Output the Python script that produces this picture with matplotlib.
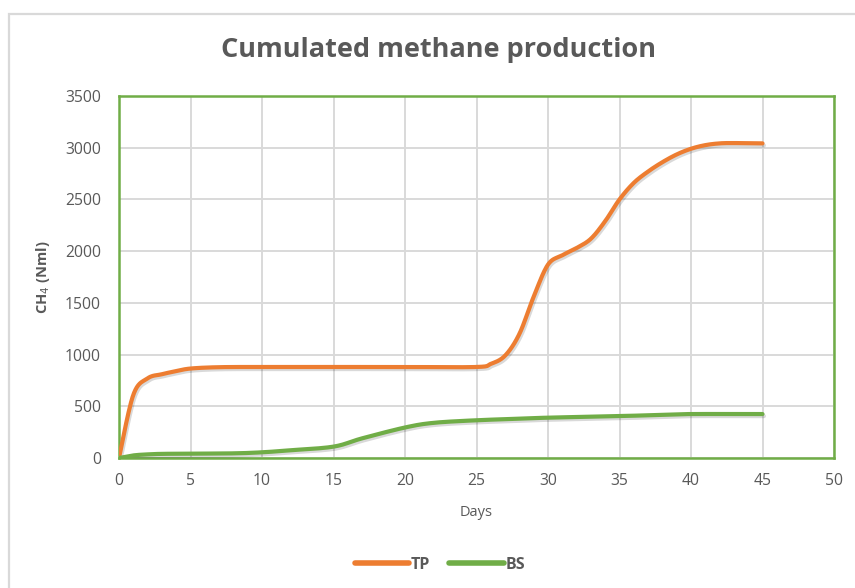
import matplotlib
matplotlib.use("Agg")
import matplotlib.pyplot as plt
import matplotlib.patheffects as pe
from matplotlib.patches import Rectangle
import numpy as np

plt.rcParams["font.family"] = ["Open Sans", "DejaVu Sans"]

# data
tp_days = [0, 1, 2, 3, 4, 5, 7, 10, 15, 20, 25, 26, 27, 28, 29, 30, 31, 32, 33, 34,
           35, 36, 37, 38, 39, 40, 41, 42, 43, 45]
tp_ch4 = [0, 610, 770, 810, 840, 865, 878, 880, 880, 880, 880, 910, 990, 1200, 1560,
          1870, 1960, 2030, 2120, 2290, 2500, 2660, 2770, 2860, 2935, 2990, 3025,
          3042, 3045, 3042]

bs_days = [0, 1, 2, 3, 5, 8, 10, 12, 15, 17, 20, 22, 25, 27, 30, 35, 38, 40, 45]
bs_ch4 = [0, 25, 35, 40, 42, 45, 55, 75, 110, 190, 295, 340, 365, 375, 390, 405,
          418, 425, 425]

x_ticks = [0, 5, 10, 15, 20, 25, 30, 35, 40, 45, 50]
y_ticks = [0, 500, 1000, 1500, 2000, 2500, 3000, 3500]

TEXT = "#595959"
GRID = "#d9d9d9"
GREEN = "#70ad47"
ORANGE = "#ed7d31"


def smooth(x, y, n=20):
    # Excel-style smoothed line (Catmull-Rom through the points)
    x = np.asarray(x, dtype=float)
    y = np.asarray(y, dtype=float)
    px = np.concatenate([[x[0]], x, [x[-1]]])
    py = np.concatenate([[y[0]], y, [y[-1]]])
    t = np.linspace(0, 1, n, endpoint=False)
    xs, ys = [], []
    for i in range(1, len(px) - 2):
        for p, out in ((px, xs), (py, ys)):
            p0, p1, p2, p3 = p[i - 1], p[i], p[i + 1], p[i + 2]
            out.extend(0.5 * ((2 * p1) + (-p0 + p2) * t
                              + (2 * p0 - 5 * p1 + 4 * p2 - p3) * t ** 2
                              + (-p0 + 3 * p1 - 3 * p2 + p3) * t ** 3))
    xs.append(x[-1])
    ys.append(y[-1])
    return np.array(xs), np.array(ys)


fig = plt.figure(figsize=(8.55, 5.88), dpi=100)
fig.patches.append(Rectangle((9 / 855, -0.1), 2.0, 1 - 14 / 588 + 0.1,
                             transform=fig.transFigure, fill=False,
                             edgecolor=GRID, linewidth=1.6))

ax = fig.add_axes([119 / 855, 1 - 458 / 588, 715 / 855, 362 / 588])

shadow = [pe.SimpleLineShadow(offset=(1, -1.5), shadow_color="black", alpha=0.15),
          pe.Normal()]

sx, sy = smooth(tp_days, tp_ch4)
ax.plot(sx, sy, color=ORANGE, linewidth=3, solid_capstyle="round",
        label="TP", path_effects=shadow, zorder=3)
sx, sy = smooth(bs_days, bs_ch4)
ax.plot(sx, sy, color=GREEN, linewidth=3, solid_capstyle="round",
        label="BS", path_effects=shadow, zorder=3)

ax.set_xlim(0, 50)
ax.set_ylim(0, 3500)
ax.set_xticks(x_ticks)
ax.set_yticks(y_ticks)
ax.grid(True, color=GRID, linewidth=1.4)
ax.set_axisbelow(True)
ax.tick_params(length=0, labelsize=11.3, labelcolor=TEXT)
ax.tick_params(axis="y", pad=13)
ax.tick_params(axis="x", pad=11)
for s in ax.spines.values():
    s.set_color(GREEN)
    s.set_linewidth(1.8)

ax.set_xlabel("Days", fontsize=10.5, color=TEXT, labelpad=11)
ax.set_ylabel("CH$_4$ (Nml)", fontsize=10.5, color=TEXT, fontweight="bold", labelpad=9)

fig.text(438 / 855, 1 - 50 / 588, "Cumulated methane production", ha="center",
         va="center", fontsize=19.5, fontweight="bold", color=TEXT)

leg = fig.legend(loc="center", bbox_to_anchor=(440 / 855, 1 - 565 / 588), ncol=2,
                 frameon=False, handlelength=3.4, handletextpad=0.1, columnspacing=1.2,
                 prop={"weight": "bold", "size": 11.5})
for t in leg.get_texts():
    t.set_color(TEXT)
for h in leg.get_lines():
    h.set_linewidth(4)
    h.set_path_effects([])

fig.savefig("out.png", dpi=100)
